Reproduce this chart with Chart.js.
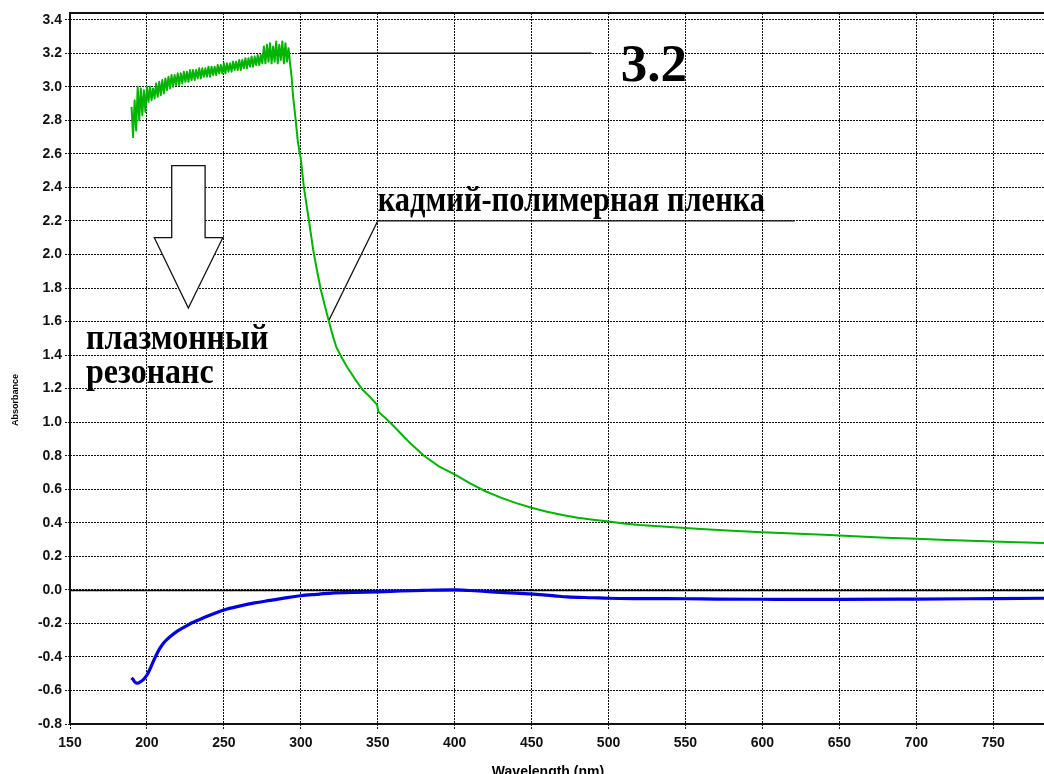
<!DOCTYPE html>
<html>
<head>
<meta charset="utf-8">
<script src="https://cdn.jsdelivr.net/npm/chart.js@4/dist/chart.umd.min.js"></script>
<style>
  html, body { margin: 0; padding: 0; background: #fff; overflow: hidden; }
  #wrap { width: 1044px; height: 774px; position: relative; }
</style>
</head>
<body>
<div id="wrap"><canvas id="c" width="1044" height="774"></canvas></div>
<script>
// Cadmium-polymer film spectrum (green), wavelength in nm
const filmNm = [
  190,191,192,193,194,195,196,197,198,199,
  200,201,202,203,204,205,206,207,208,209,
  210,211,212,213,214,215,216,217,218,219,
  220,221,222,223,224,225,226,227,228,229,
  230,231,232,233,234,235,236,237,238,239,
  240,241,242,243,244,245,246,247,248,249,
  250,251,252,253,254,255,256,257,258,259,
  260,261,262,263,264,265,266,267,268,269,
  270,271,272,273,274,275,276,277,278,279,
  280,281,282,283,284,285,286,287,288,289,
  290,291,292,293,294,295,296,297,298,299,
  300,302,305,308,310,313,316,318,320,323,326,330,335,340,345,
  349.5,350.5,355,360,370,380,390,400,410,420,430,440,450,460,470,480,490,
  500,510,520,540,560,580,600,620,640,660,680,700,720,740,760,783
];
const filmAbs = [
  2.88,2.70,2.92,2.74,3.00,2.80,2.99,2.83,2.98,2.85,
  3.00,2.91,3.00,2.92,2.99,2.93,3.02,2.94,3.03,2.95,
  3.04,2.96,3.05,2.98,3.06,2.99,3.07,3.00,3.07,3.01,
  3.08,3.01,3.08,3.02,3.09,3.03,3.09,3.03,3.10,3.04,
  3.10,3.04,3.10,3.05,3.11,3.05,3.11,3.06,3.11,3.06,
  3.12,3.06,3.12,3.07,3.12,3.07,3.13,3.08,3.13,3.08,
  3.14,3.08,3.14,3.09,3.14,3.09,3.15,3.10,3.15,3.10,
  3.16,3.10,3.16,3.11,3.17,3.11,3.17,3.12,3.18,3.12,
  3.18,3.13,3.19,3.13,3.19,3.14,3.24,3.14,3.25,3.15,
  3.26,3.14,3.24,3.15,3.27,3.14,3.25,3.16,3.27,3.14,
  3.26,3.15,3.23,3.14,3.06,2.94,2.86,2.77,2.68,2.62,
  2.57,2.40,2.22,2.03,1.93,1.79,1.68,1.61,1.54,1.45,1.395,1.33,1.26,1.195,1.15,
  1.105,1.06,1.025,0.98,0.885,0.80,0.735,0.688,0.635,0.588,0.55,0.517,0.49,0.466,0.446,0.43,0.418,
  0.408,0.396,0.387,0.375,0.363,0.353,0.344,0.336,0.328,0.319,0.311,0.304,0.297,0.291,0.286,0.28
];

// Baseline spectrum (blue)
const baseNm = [
  190,191,192,193,194,195,196,198,200,202,204,206,208,210,212,215,220,225,229,235,240,245,
  250,260,270,280,290,300,310,320,335,350,365,380,400,410,424,440,451,465,473,490,
  500,520,550,570,600,650,700,750,783
];
const baseAbs = [
  -0.525,-0.535,-0.548,-0.555,-0.556,-0.553,-0.547,-0.532,-0.508,-0.472,-0.43,-0.39,-0.355,-0.327,-0.305,-0.28,-0.245,-0.218,-0.198,-0.174,-0.155,-0.137,
  -0.12,-0.097,-0.078,-0.063,-0.048,-0.035,-0.027,-0.02,-0.015,-0.012,-0.007,-0.003,0.0,-0.004,-0.012,-0.02,-0.026,-0.036,-0.042,-0.047,
  -0.05,-0.052,-0.053,-0.055,-0.056,-0.057,-0.055,-0.052,-0.05
];

// Axis ticks
const xTicks = [150,200,250,300,350,400,450,500,550,600,650,700,750];
const yTicks = [-0.8,-0.6,-0.4,-0.2,0.0,0.2,0.4,0.6,0.8,1.0,1.2,1.4,1.6,1.8,2.0,2.2,2.4,2.6,2.8,3.0,3.2,3.4];
const xRange = [150, 783];
const yRange = [-0.8, 3.44];

// Callouts, anchored in data units (nm, absorbance)
const peakLine = [[300, 3.2], [489, 3.2]];
const peakLabel = { text: '3.2', at: [508, 3.035] };
const filmLine = [[318.4, 1.61], [350, 2.2], [621, 2.2]];
const filmLabel = { text: 'кадмий-полимерная пленка', at: [350, 2.26] };
const arrowShape = [[216.1, 2.53], [237.8, 2.53], [237.8, 2.10], [249.3, 2.10], [226.9, 1.68], [204.8, 2.10], [216.1, 2.10]];
const plasmonLabels = [
  { text: 'плазмонный', at: [160.4, 1.436] },
  { text: 'резонанс', at: [160.4, 1.234] }
];

const toXY = (xs, ys) => xs.map((x, i) => ({ x: x, y: ys[i] }));

const calloutPlugin = {
  id: 'callouts',
  beforeDatasetsDraw(chart) {
    const { ctx, chartArea: a, scales: { y } } = chart;
    ctx.save();
    // zero line
    const y0 = Math.round(y.getPixelForValue(0)) + 0.5;
    ctx.strokeStyle = '#000';
    ctx.lineWidth = 1.5;
    ctx.beginPath();
    ctx.moveTo(a.left, y0);
    ctx.lineTo(a.right, y0);
    ctx.stroke();
    ctx.restore();
  },
  afterDatasetsDraw(chart) {
    const { ctx, chartArea: a, scales: { x, y } } = chart;
    const px = p => [x.getPixelForValue(p[0]), y.getPixelForValue(p[1])];
    ctx.save();
    // frame
    ctx.strokeStyle = '#111';
    ctx.lineWidth = 2;
    ctx.beginPath();
    ctx.moveTo(a.left, a.bottom);
    ctx.lineTo(a.left, a.top);
    ctx.lineTo(a.right + 2, a.top);
    ctx.moveTo(a.left, a.bottom);
    ctx.lineTo(a.right + 2, a.bottom);
    ctx.stroke();

    // leader lines
    ctx.strokeStyle = '#111';
    ctx.lineWidth = 1.5;
    const poly = (pts) => {
      ctx.beginPath();
      pts.forEach((p, i) => {
        const [u, v] = px(p);
        if (i === 0) ctx.moveTo(u, v); else ctx.lineTo(u, v);
      });
      ctx.stroke();
    };
    poly(peakLine);
    ctx.lineWidth = 1.2;
    poly(filmLine);

    // hollow arrow
    ctx.lineWidth = 1.3;
    ctx.fillStyle = '#fff';
    ctx.beginPath();
    arrowShape.forEach((p, i) => {
      const [u, v] = px(p);
      if (i === 0) ctx.moveTo(u, v); else ctx.lineTo(u, v);
    });
    ctx.closePath();
    ctx.fill();
    ctx.stroke();

    // labels
    ctx.fillStyle = '#000';
    ctx.textAlign = 'left';
    ctx.textBaseline = 'alphabetic';
    const stretched = (label, size) => {
      const [u, v] = px(label.at);
      ctx.save();
      ctx.translate(u, v);
      ctx.scale(1, 1.15);
      ctx.font = 'bold ' + size + 'px "Liberation Serif", "Times New Roman", serif';
      ctx.fillText(label.text, 0, 0);
      ctx.restore();
    };
    stretched(filmLabel, 30.5);
    plasmonLabels.forEach(l => stretched(l, 32));
    {
      const [u, v] = px(peakLabel.at);
      ctx.font = 'bold 53px "Liberation Serif", "Times New Roman", serif';
      ctx.fillText(peakLabel.text, u, v);
    }

    // axis titles
    ctx.font = 'bold 14px "Liberation Sans", Arial, sans-serif';
    ctx.textAlign = 'center';
    ctx.textBaseline = 'middle';
    ctx.fillText('Wavelength (nm)', a.left + 478, chart.height - 2);
    ctx.save();
    ctx.translate(16, a.top + 387);
    ctx.rotate(-Math.PI / 2);
    ctx.font = 'bold 9px "Liberation Sans", Arial, sans-serif';
    ctx.fillText('Absorbance', 0, 0);
    ctx.restore();
    ctx.restore();
  }
};

const gridStyle = {
  color: '#111',
  lineWidth: 1,
  drawTicks: true,
  tickLength: 5,
  tickColor: '#111',
  tickBorderDash: [2, 1]
};
const tickFont = { family: '"Liberation Sans", Arial, sans-serif', size: 14, weight: 'bold' };

new Chart(document.getElementById('c'), {
  type: 'line',
  data: {
    datasets: [
      {
        label: 'film',
        data: toXY(filmNm, filmAbs),
        borderColor: '#00b400',
        borderWidth: 2,
        pointRadius: 0,
        tension: 0,
        borderJoinStyle: 'round'
      },
      {
        label: 'baseline',
        data: toXY(baseNm, baseAbs),
        borderColor: '#0000e0',
        borderWidth: 3.2,
        pointRadius: 0,
        cubicInterpolationMode: 'monotone',
        borderJoinStyle: 'round'
      }
    ]
  },
  options: {
    responsive: false,
    animation: false,
    events: [],
    layout: { padding: { top: 13, right: 0, bottom: 0, left: 0 } },
    plugins: { legend: { display: false }, tooltip: { enabled: false }, title: { display: false } },
    scales: {
      x: {
        type: 'linear',
        min: xRange[0],
        max: xRange[1],
        afterBuildTicks: s => { s.ticks = xTicks.map(v => ({ value: v })); },
        afterFit: s => { s.height = 50; s.paddingLeft = 0; s.paddingRight = 0; },
        grid: gridStyle,
        border: { display: false, dash: [2, 1] },
        ticks: {
          color: '#111',
          font: tickFont,
          padding: 6,
          maxRotation: 0,
          autoSkip: false,
          callback: v => String(v)
        }
      },
      y: {
        type: 'linear',
        min: yRange[0],
        max: yRange[1],
        afterBuildTicks: s => { s.ticks = yTicks.map(v => ({ value: v })); },
        afterFit: s => { s.width = 70; s.paddingTop = 0; s.paddingBottom = 0; },
        grid: gridStyle,
        border: { display: false, dash: [2, 1] },
        ticks: {
          color: '#111',
          font: tickFont,
          padding: 3,
          autoSkip: false,
          callback: v => Number(v).toFixed(1)
        }
      }
    }
  },
  plugins: [calloutPlugin]
});
</script>
</body>
</html>
